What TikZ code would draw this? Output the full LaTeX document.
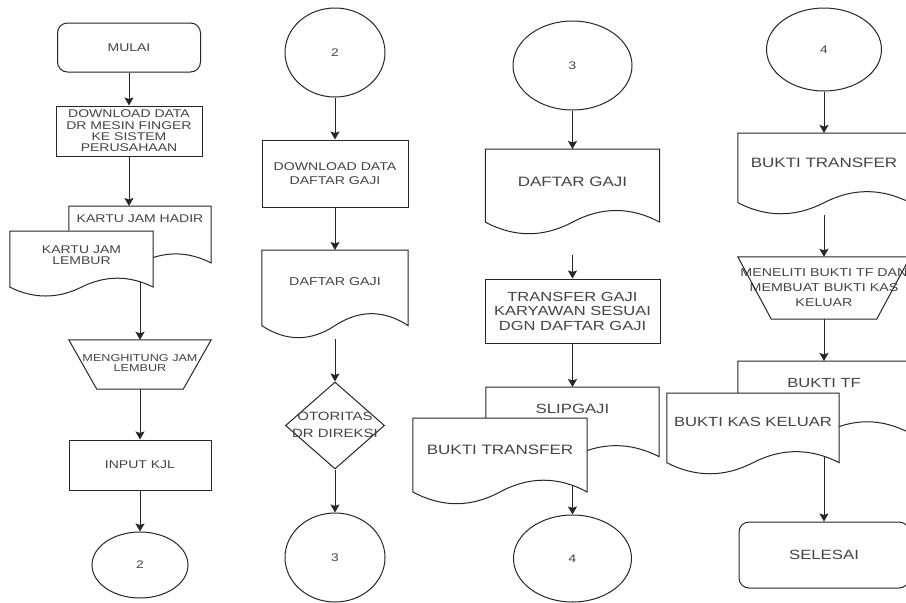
\documentclass[tikz,border=0pt]{standalone}
\usepackage{fontspec}
\setmainfont{Liberation Sans}[FakeStretch=1.25]
\usepackage{tikz}
\usetikzlibrary{shapes.geometric, arrows.meta, calc}
\definecolor{garisAbu}{HTML}{262626}
\definecolor{teksAbu}{HTML}{444444}

\pgfdeclarelayer{lapisgaris}
\pgfdeclarelayer{lapisdok}
\pgfsetlayers{lapisgaris,lapisdok,main}

\tikzset{
    tepi/.style={draw=garisAbu, line width=1pt},
    panah/.style={tepi, -{Stealth[length=8pt,width=9pt,inset=1.5pt]}},
    huruf/.style 2 args={font=\fontsize{#1}{#2}\selectfont},
    kotak/.style={rectangle, tepi, text=teksAbu, align=center, inner sep=0pt},
    terminal/.style={kotak, rounded corners=10pt},
    lingkaran/.style={ellipse, tepi, text=teksAbu, inner sep=0pt},
    dok/.style={rectangle, text=teksAbu, align=center, inner sep=0pt, anchor=north},
    trap/.style={rectangle, text=teksAbu, inner sep=0pt},
    keputusan/.style={diamond, tepi, text=teksAbu, inner sep=0pt}
}

% teks yang boleh lebih lebar dari bentuknya
\newcommand{\lebar}[1]{\makebox[0pt]{\begin{tabular}{@{}c@{}}#1\end{tabular}}}

% bentuk dokumen (bawah bergelombang), #2 = tinggi penuh
\newcommand{\dokumen}[2]{%
    \begin{pgfonlayer}{lapisdok}
    \path[tepi, fill=white] let \p1=(#1.north west), \p2=(#1.north east), \n1={\x2-\x1} in
        (\p1) -- (\p2) -- (\x2,{\y1-0.85*#2pt})
        .. controls ({\x1+0.8333*\n1},{\y1-0.67*#2pt}) and ({\x1+0.6667*\n1},{\y1-0.67*#2pt}) .. ({\x1+0.5*\n1},{\y1-0.85*#2pt})
        .. controls ({\x1+0.3333*\n1},{\y1-1.03*#2pt}) and ({\x1+0.1667*\n1},{\y1-1.03*#2pt}) .. (\x1,{\y1-0.85*#2pt}) -- cycle;
    \end{pgfonlayer}
    \coordinate (#1-b) at ($(#1.north)+(0,#2)$);
}

% trapesium terbalik, #2 = jarak masuk sudut bawah
\newcommand{\trapesium}[2]{%
    \draw[tepi] (#1.north west) -- (#1.north east) -- ([xshift=-#2pt]#1.south east) -- ([xshift=#2pt]#1.south west) -- cycle;
}

\begin{document}
\begin{tikzpicture}[x=1pt, y=-1pt]
    \begin{pgfonlayer}{lapisgaris}
        \fill[white] (0,0) rectangle (906,603);
    \end{pgfonlayer}
    \useasboundingbox (0,0) rectangle (906,603);

    % kolom 1
    \node[terminal, huruf={11.2}{12}, minimum width=143pt, minimum height=49pt] (mulai) at (129,47.5) {MULAI};
    \node[kotak, huruf={11.2}{11.4}, minimum width=146pt, minimum height=50pt] (unduh1) at (129,131) {DOWNLOAD DATA\\DR MESIN FINGER\\KE SISTEM\\PERUSAHAAN};
    \node[dok, huruf={11.2}{12}, minimum width=142pt, minimum height=24pt] (hadir) at (140,206) {KARTU JAM HADIR};
    \dokumen{hadir}{67}
    \node[dok, huruf={11.2}{11}, minimum width=143pt, minimum height=47pt] (lembur) at (81.5,231) {KARTU JAM\\LEMBUR};
    \dokumen{lembur}{66}
    \node[trap, huruf={10.1}{10.2}, minimum width=142pt, minimum height=49pt] (hitung) at (140,364.5) {\lebar{MENGHITUNG JAM\\LEMBUR}};
    \trapesium{hitung}{28}
    \node[kotak, huruf={11.2}{12}, minimum width=142pt, minimum height=50pt] (kjl) at (140,465) {INPUT KJL};
    \node[lingkaran, huruf={11}{12}, minimum width=96pt, minimum height=66pt] (sambung2a) at (140,565) {2};

    % kolom 2
    \node[lingkaran, huruf={11}{12}, minimum width=100pt, minimum height=89pt] (sambung2b) at (335,52.5) {2};
    \node[kotak, huruf={11.3}{14.3}, minimum width=146pt, minimum height=67pt] (unduh2) at (335,173.5) {DOWNLOAD DATA\\DAFTAR GAJI};
    \node[dok, huruf={11.4}{12}, minimum width=146pt, minimum height=62pt] (gaji2) at (335,250) {DAFTAR GAJI};
    \dokumen{gaji2}{89}
    \node[keputusan, huruf={12}{16.7}, minimum width=99pt, minimum height=87pt] (otoritas) at (335,425.5) {\lebar{OTORITAS\\DR DIREKSI}};
    \node[lingkaran, huruf={11}{12}, minimum width=100pt, minimum height=89pt] (sambung3a) at (335,557.5) {3};

    % kolom 3
    \node[lingkaran, huruf={11}{12}, minimum width=119pt, minimum height=89pt] (sambung3b) at (572.5,65.5) {3};
    \node[dok, huruf={13.6}{14.4}, minimum width=174pt, minimum height=66pt] (gaji3) at (572.5,149) {DAFTAR GAJI};
    \dokumen{gaji3}{86}
    \node[kotak, huruf={13.2}{14.5}, minimum width=175pt, minimum height=64pt] (transfer) at (572.5,311) {TRANSFER GAJI\\KARYAWAN SESUAI\\DGN DAFTAR GAJI};
    \node[dok, huruf={13.4}{14.4}, minimum width=173pt, minimum height=44pt] (slip) at (572.5,387) {SLIPGAJI};
    \dokumen{slip}{82}
    \node[dok, huruf={13.6}{14.4}, minimum width=174pt, minimum height=64pt] (bukti3) at (500,418) {BUKTI TRANSFER};
    \dokumen{bukti3}{87}
    \node[lingkaran, huruf={11}{12}, minimum width=118pt, minimum height=87pt] (sambung4a) at (572.5,558.5) {4};

    % kolom 4
    \node[lingkaran, huruf={11}{12}, minimum width=115pt, minimum height=83pt] (sambung4b) at (824,49.5) {4};
    \node[dok, huruf={13.6}{14.4}, minimum width=172pt, minimum height=60pt] (bukti4) at (824,133) {BUKTI TRANSFER};
    \dokumen{bukti4}{82}
    \node[trap, huruf={11.4}{15}, minimum width=172pt, minimum height=62pt] (teliti) at (824,288) {\lebar{MENELITI BUKTI TF DAN\\MEMBUAT BUKTI KAS\\KELUAR}};
    \trapesium{teliti}{33.5}
    \node[dok, huruf={13.2}{14.4}, minimum width=172pt, minimum height=44pt] (buktitf) at (824,361) {BUKTI TF};
    \dokumen{buktitf}{85}
    \node[dok, huruf={13.3}{14.4}, minimum width=172pt, minimum height=58pt] (kas) at (753,393) {BUKTI KAS KELUAR};
    \dokumen{kas}{82}
    \node[terminal, huruf={13.4}{14.4}, minimum width=170pt, minimum height=66pt] (selesai) at (824,555) {SELESAI};

    % panah
    \begin{pgfonlayer}{lapisgaris}
        \draw[panah] (mulai) -- (unduh1);
        \draw[panah] (unduh1.south) -- (unduh1.south |- hadir.north);
        \draw[panah] (hadir-b) -- (hitung.north);
        \draw[panah] (hitung) -- (kjl);
        \draw[panah] (kjl) -- (sambung2a);
        \draw[panah] (sambung2b) -- (unduh2);
        \draw[panah] (unduh2) -- (gaji2);
        \draw[panah] (gaji2-b) -- (otoritas);
        \draw[panah] (otoritas) -- (sambung3a);
        \draw[panah] (sambung3b) -- (gaji3);
        \draw[panah, shorten <=20pt] (gaji3-b) -- (transfer);
        \draw[panah] (transfer) -- (slip);
        \draw[panah] (slip-b) -- (sambung4a);
        \draw[panah] (sambung4b) -- (bukti4);
        \draw[panah] (bukti4-b) -- (teliti.north);
        \draw[panah] (teliti) -- (buktitf);
        \draw[panah] (buktitf-b) -- (selesai);
    \end{pgfonlayer}
\end{tikzpicture}
\end{document}
